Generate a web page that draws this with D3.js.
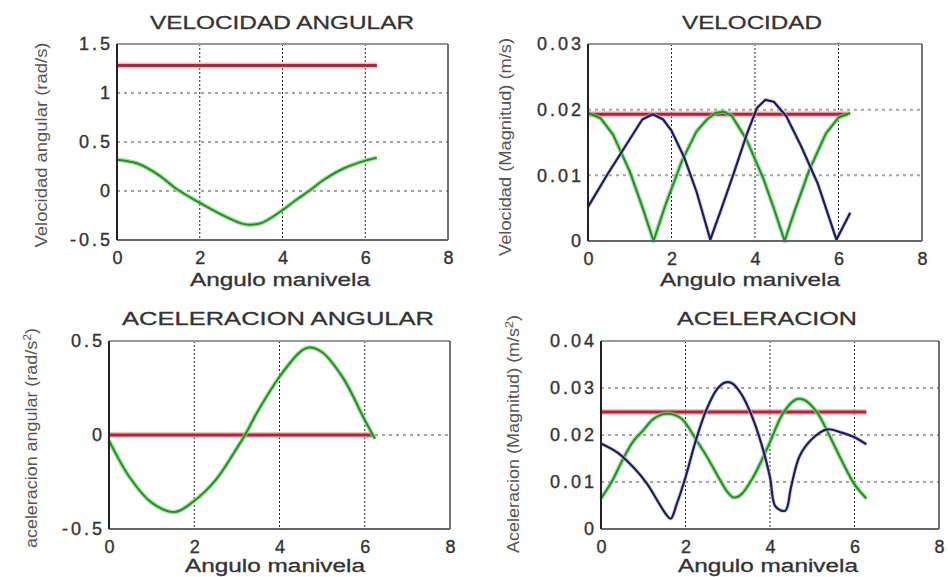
<!DOCTYPE html>
<html lang="es">
<head>
<meta charset="utf-8">
<style>
    body { margin: 0; background: #fff; }
    svg { display: block; font-family: "Liberation Sans", Arial, sans-serif; }
    .tick text { font-size: 18px; fill: #333; letter-spacing: 3px; stroke: #333; stroke-width: 0.35px; }
    .rotulo { stroke-width: 0.3px; }
</style>
<script src="https://cdn.jsdelivr.net/npm/d3@7"></script>
</head>
<body>
<svg width="948" height="577"></svg>
<script>
// eje x comun
var xTicks = [0, 2, 4, 6, 8];

// VELOCIDAD ANGULAR
var velAngTicks = [-0.5, 0, 0.5, 1, 1.5];
var velAngTickLabels = ["-0.5", "0", "0.5", "1", "1.5"];
var velAngX = [0, 0.5, 1.0, 1.44, 2.0, 2.5, 3.0, 3.2, 3.5, 4.0, 4.3, 4.64, 5.0, 5.5, 6.0, 6.28];
var velAngY = [0.32, 0.28, 0.165, 0.02, -0.12, -0.235, -0.33, -0.345, -0.325, -0.195, -0.1, 0, 0.115, 0.235, 0.31, 0.34];
var velAngRefX = [0, 6.28];
var velAngRefY = [1.28, 1.28];

// VELOCIDAD
var velTicks = [0, 0.01, 0.02, 0.03];
var velTickLabels = ["0", "0.01", "0.02", "0.03"];
var velGreenX = [0, 0.3, 0.6, 1.0, 1.3, 1.57, 1.85, 2.25, 2.6, 2.85, 3.05, 3.25, 3.45, 3.8, 4.2, 4.45, 4.71, 4.95, 5.3, 5.7, 6.0, 6.28];
var velGreenY = [0.0195, 0.0187, 0.0162, 0.0106, 0.0052, 0, 0.0054, 0.0122, 0.0167, 0.0185, 0.0195, 0.0197, 0.0190, 0.0154, 0.0095, 0.0050, 0, 0.0046, 0.0108, 0.0164, 0.0188, 0.0195];
var velBlueX = [0, 0.5, 1.0, 1.3, 1.55, 1.8, 2.0, 2.3, 2.6, 2.93, 3.2, 3.5, 3.8, 4.05, 4.25, 4.45, 4.75, 5.1, 5.5, 5.95, 6.28];
var velBlueY = [0.0052, 0.0105, 0.0155, 0.0185, 0.0193, 0.0185, 0.0168, 0.0128, 0.0075, 0.0002, 0.005, 0.0105, 0.0162, 0.0203, 0.0215, 0.0212, 0.019, 0.0145, 0.0088, 0.0002, 0.0043];
var velRefX = [0, 6.22];
var velRefY = [0.0193, 0.0193];

// ACELERACION ANGULAR
var accAngTicks = [-0.5, 0, 0.5];
var accAngTickLabels = ["-0.5", "0", "0.5"];
var accAngX = [0, 0.5, 1.0, 1.54, 2.0, 2.5, 3.0, 3.19, 3.5, 4.0, 4.5, 4.7, 5.0, 5.5, 6.0, 6.24];
var accAngY = [-0.03, -0.23, -0.36, -0.41, -0.35, -0.24, -0.07, 0, 0.13, 0.31, 0.445, 0.465, 0.44, 0.30, 0.08, -0.02];
var accAngRefX = [0, 6.2];
var accAngRefY = [0, 0];

// ACELERACION
var accTicks = [0, 0.01, 0.02, 0.03, 0.04];
var accTickLabels = ["0", "0.01", "0.02", "0.03", "0.04"];
var accGreenX = [0, 0.25, 0.5, 0.75, 1.0, 1.25, 1.57, 1.9, 2.25, 2.5, 2.75, 3.0, 3.14, 3.3, 3.6, 4.0, 4.3, 4.6, 4.8, 5.1, 5.4, 5.7, 6.0, 6.28];
var accGreenY = [0.0065, 0.010, 0.0145, 0.0185, 0.021, 0.0235, 0.0245, 0.0235, 0.019, 0.0155, 0.0115, 0.0078, 0.0067, 0.0072, 0.011, 0.0185, 0.0245, 0.0275, 0.0275, 0.025, 0.020, 0.0145, 0.0095, 0.0065];
var accBlueX = [0, 0.4, 0.8, 1.1, 1.35, 1.55, 1.65, 1.8, 2.0, 2.25, 2.5, 2.75, 2.95, 3.1, 3.3, 3.55, 3.8, 4.0, 4.13, 4.36, 4.5, 4.7, 5.0, 5.35, 5.7, 6.0, 6.28];
var accBlueY = [0.0182, 0.0162, 0.0128, 0.0095, 0.0058, 0.003, 0.0022, 0.0055, 0.011, 0.019, 0.0255, 0.0298, 0.0312, 0.031, 0.029, 0.0245, 0.018, 0.011, 0.0048, 0.0039, 0.009, 0.0155, 0.0192, 0.0212, 0.0205, 0.0195, 0.018];
var accRefX = [0, 6.28];
var accRefY = [0.0249, 0.0249];

var svg = d3.select("svg");

var estilos = {
    red:   { halo: "#f0a3ad", haloW: 6, core: "#a8283c", coreW: 3 },
    green: { halo: "#7ad87a", haloW: 4.5, core: "#2c8a2c", coreW: 2 },
    blue:  { halo: "#c0c0dc", haloW: 4, core: "#1e1e56", coreW: 2.2 }
};

var curvas = { suave: d3.curveCatmullRom, recta: d3.curveLinear };

function panel(p) {
    var g = svg.append("g");
    var x = d3.scaleLinear().domain([0, 8]).range([p.left, p.right]);
    var y = d3.scaleLinear().domain([p.ticks[0], p.ticks[p.ticks.length - 1]]).range([p.bottom, p.top]);

    // rejilla horizontal (punteada gris)
    g.selectAll(".hgrid")
        .data(p.ticks.slice(1, -1))
        .enter().append("line")
        .attr("x1", p.left).attr("x2", p.right)
        .attr("y1", function(d) { return y(d); })
        .attr("y2", function(d) { return y(d); })
        .attr("stroke", "#a4a4a4")
        .attr("stroke-width", 2)
        .attr("stroke-dasharray", "3,4");

    // rejilla vertical (punteada negra)
    g.selectAll(".vgrid")
        .data(xTicks.slice(1, -1))
        .enter().append("line")
        .attr("y1", p.top).attr("y2", p.bottom)
        .attr("x1", function(d) { return x(d); })
        .attr("x2", function(d) { return x(d); })
        .attr("stroke", "#222")
        .attr("stroke-width", 1)
        .attr("stroke-dasharray", "2,2");

    p.series.forEach(function(s) {
        var pts = d3.zip(s.x, s.y);
        var st = estilos[s.color];
        var line = d3.line()
            .x(function(d) { return x(d[0]); })
            .y(function(d) { return y(d[1]); })
            .curve(curvas[s.curve || "suave"]);
        g.append("path").datum(pts)
            .attr("d", line).attr("fill", "none")
            .attr("stroke", st.halo).attr("stroke-width", st.haloW)
            .attr("stroke-opacity", 0.7).attr("stroke-linejoin", "round");
        g.append("path").datum(pts)
            .attr("d", line).attr("fill", "none")
            .attr("stroke", st.core).attr("stroke-width", st.coreW)
            .attr("stroke-linejoin", "round");
    });

    // marco
    g.append("line").attr("x1", p.left).attr("x2", p.right).attr("y1", p.top).attr("y2", p.top)
        .attr("stroke", "#999").attr("stroke-width", 2);
    g.append("line").attr("x1", p.right).attr("x2", p.right).attr("y1", p.top).attr("y2", p.bottom)
        .attr("stroke", "#444").attr("stroke-width", 1.5);
    g.append("line").attr("x1", p.left).attr("x2", p.right).attr("y1", p.bottom).attr("y2", p.bottom)
        .attr("stroke", "#666").attr("stroke-width", 2);
    g.append("line").attr("x1", p.left).attr("x2", p.left).attr("y1", p.top).attr("y2", p.bottom)
        .attr("stroke", "#222").attr("stroke-width", 2);

    // ejes
    g.append("g")
        .attr("transform", "translate(1.5," + p.bottom + ")")
        .call(d3.axisBottom(x).tickValues(xTicks).tickSize(0).tickPadding(11).tickFormat(d3.format("d")))
        .call(function(a) { a.select(".domain").remove(); });

    g.append("g")
        .attr("transform", "translate(" + p.left + ",0)")
        .call(d3.axisLeft(y).tickValues(p.ticks).tickSize(0).tickPadding(4)
            .tickFormat(function(d, i) { return p.tickLabels[i]; }))
        .call(function(a) { a.select(".domain").remove(); });

    // titulo
    g.append("text").attr("class", "rotulo")
        .attr("x", p.titleX).attr("y", p.titleY)
        .attr("text-anchor", "middle")
        .attr("textLength", p.titleW).attr("lengthAdjust", "spacingAndGlyphs")
        .style("font-size", "19px").style("fill", "#333").style("stroke", "#333")
        .text(p.title);

    // etiqueta x
    g.append("text").attr("class", "rotulo")
        .attr("x", p.xlabX).attr("y", p.xlabY)
        .attr("text-anchor", "middle")
        .attr("textLength", 180).attr("lengthAdjust", "spacingAndGlyphs")
        .style("font-size", "18px").style("fill", "#333").style("stroke", "#333")
        .text("Angulo manivela");

    // etiqueta y
    var yl = g.append("text")
        .attr("transform", "translate(" + p.ylabX + "," + p.ylabY + ") rotate(-90)")
        .attr("text-anchor", "middle")
        .attr("textLength", p.ylabW).attr("lengthAdjust", "spacingAndGlyphs")
        .style("font-size", "16px").style("fill", "#555");
    yl.append("tspan").text(p.ylab);
    if (p.ylabSup) {
        yl.append("tspan").attr("dy", -6).style("font-size", "11px").text("2");
        yl.append("tspan").attr("dy", 6).text(")");
    }
}

panel({
    left: 117, right: 448, top: 44, bottom: 240,
    ticks: velAngTicks, tickLabels: velAngTickLabels,
    title: "VELOCIDAD ANGULAR", titleX: 282, titleY: 29, titleW: 264,
    xlabX: 280, xlabY: 286,
    ylab: "Velocidad angular (rad/s)", ylabX: 47, ylabY: 145, ylabW: 205,
    series: [
        { x: velAngRefX, y: velAngRefY, color: "red", curve: "recta" },
        { x: velAngX, y: velAngY, color: "green" }
    ]
});

panel({
    left: 588, right: 922, top: 44, bottom: 241,
    ticks: velTicks, tickLabels: velTickLabels,
    title: "VELOCIDAD", titleX: 752, titleY: 29, titleW: 140,
    xlabX: 750, xlabY: 286,
    ylab: "Velocidad (Magnitud) (m/s)", ylabX: 511, ylabY: 147, ylabW: 218,
    series: [
        { x: velRefX, y: velRefY, color: "red", curve: "recta" },
        { x: velGreenX, y: velGreenY, color: "green", curve: "recta" },
        { x: velBlueX, y: velBlueY, color: "blue", curve: "recta" }
    ]
});

panel({
    left: 109, right: 450, top: 341, bottom: 529,
    ticks: accAngTicks, tickLabels: accAngTickLabels,
    title: "ACELERACION ANGULAR", titleX: 278, titleY: 325, titleW: 312,
    xlabX: 275, xlabY: 572,
    ylab: "aceleracion angular (rad/s", ylabSup: true, ylabX: 37, ylabY: 438, ylabW: 220,
    series: [
        { x: accAngRefX, y: accAngRefY, color: "red", curve: "recta" },
        { x: accAngX, y: accAngY, color: "green" }
    ]
});

panel({
    left: 601, right: 939, top: 341, bottom: 529,
    ticks: accTicks, tickLabels: accTickLabels,
    title: "ACELERACION", titleX: 767, titleY: 325, titleW: 180,
    xlabX: 768, xlabY: 572,
    ylab: "Aceleracion (Magnitud) (m/s", ylabSup: true, ylabX: 519, ylabY: 434, ylabW: 238,
    series: [
        { x: accRefX, y: accRefY, color: "red", curve: "recta" },
        { x: accGreenX, y: accGreenY, color: "green" },
        { x: accBlueX, y: accBlueY, color: "blue" }
    ]
});
</script>
</body>
</html>
